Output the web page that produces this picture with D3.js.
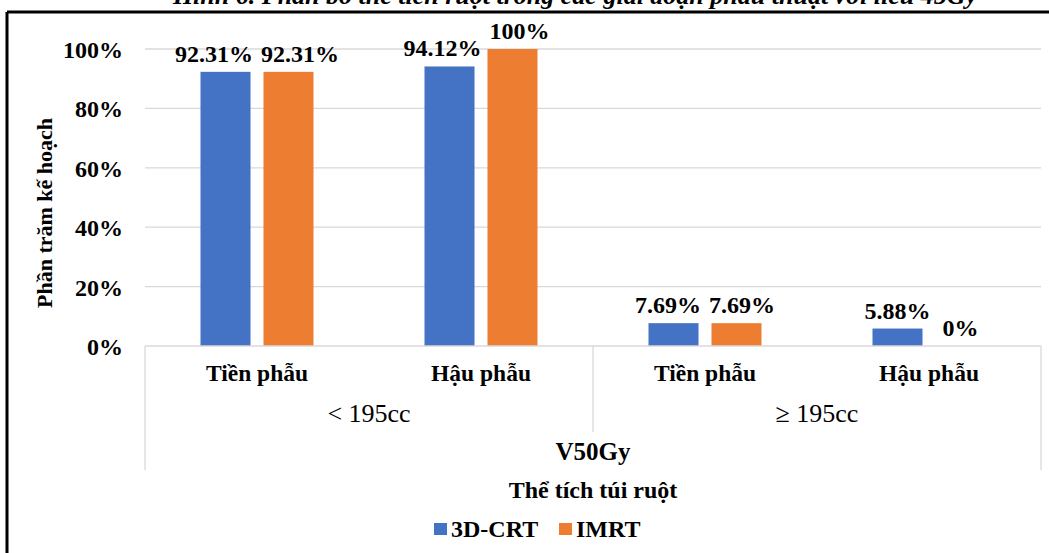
<!DOCTYPE html>
<html><head><meta charset="utf-8">
<script src="https://cdn.jsdelivr.net/npm/d3@7"></script>
<style>body{margin:0;background:#fff;overflow:hidden}svg{display:block}text{font-family:"Liberation Serif","Times New Roman",serif}</style>
</head><body>
<script>
const groups = ["< 195cc", "\u2265 195cc"];
const categories = ["Tiền phẫu", "Hậu phẫu", "Tiền phẫu", "Hậu phẫu"];
const series = ["3D-CRT", "IMRT"];
const values3D = [0.9231, 0.9412, 0.0769, 0.0588];
const valuesIMRT = [0.9231, 1.0, 0.0769, 0.0];
const labels3D = ["92.31%", "94.12%", "7.69%", "5.88%"];
const labelsIMRT = ["92.31%", "100%", "7.69%", "0%"];
const yTicks = [0, 0.2, 0.4, 0.6, 0.8, 1.0];
const colors = ["#4472C4", "#ED7D31"];
const titleText = "Hình 6. Phân bố thể tích ruột trong các giai đoạn phẫu thuật với liều 45Gy";

const W = 1049, H = 553;
const svg = d3.select("body").append("svg").attr("width", W).attr("height", H);
const L = 145, R = 1041, T = 49, B = 346;

// partially clipped title
svg.append("text").attr("x", 575).attr("y", 4).attr("text-anchor", "middle")
  .attr("font-size", 26).attr("font-weight", "bold").attr("font-style", "italic").text(titleText);
// frame
svg.append("line").attr("x1", 7).attr("x2", W).attr("y1", 12).attr("y2", 12).attr("stroke", "#000").attr("stroke-width", 3);
svg.append("line").attr("x1", 7).attr("x2", 7).attr("y1", 12).attr("y2", H).attr("stroke", "#000").attr("stroke-width", 3);

const y = d3.scaleLinear().domain([0, 1]).range([B, T]);
const x0 = d3.scaleBand().domain(d3.range(categories.length)).range([L, R]);
const x1 = d3.scaleBand().domain(series).range([0, x0.bandwidth()]).paddingInner(0.206).paddingOuter(0.881);

// gridlines
svg.append("g").selectAll("line").data(yTicks.filter(d => d > 0)).join("line")
  .attr("x1", L).attr("x2", R).attr("y1", d => y(d)).attr("y2", d => y(d))
  .attr("stroke", "#d9d9d9").attr("stroke-width", 1.3);

// y axis labels
const yAxis = d3.axisLeft(y).tickValues(yTicks).tickFormat(d3.format(".0%")).tickSize(0).tickPadding(0);
const ya = svg.append("g").attr("transform", `translate(123,0)`).call(yAxis);
ya.select(".domain").remove();
ya.selectAll("text").attr("font-size", 24).attr("font-weight", "bold").attr("fill", "#000")
  .attr("font-family", "Liberation Serif").attr("dy", "0.35em");

svg.append("text").attr("transform", `translate(52,213) rotate(-90)`).attr("text-anchor", "middle")
  .attr("font-size", 22).attr("font-weight", "bold").text("Phần trăm kế hoạch");

// bars
const data = categories.map((c, i) => ({i, vals: [
  {s: series[0], v: values3D[i], lab: labels3D[i], c: colors[0]},
  {s: series[1], v: valuesIMRT[i], lab: labelsIMRT[i], c: colors[1]}]}));
const g = svg.append("g").selectAll("g").data(data).join("g")
  .attr("transform", d => `translate(${x0(d.i)},0)`);
g.selectAll("rect").data(d => d.vals).join("rect")
  .attr("x", d => x1(d.s)).attr("width", x1.bandwidth())
  .attr("y", d => y(d.v)).attr("height", d => B - y(d.v)).attr("fill", d => d.c);
g.each(function(d) {
  const sel = d3.select(this).selectAll("text").data(d.vals).join("text")
    .attr("x", v => x1(v.s) + x1.bandwidth() / 2).attr("y", v => y(v.v) - 10)
    .attr("text-anchor", "middle").attr("font-size", 24).attr("font-weight", "bold").text(v => v.lab);
  // push apart overlapping labels on the same level
  const nodes = sel.nodes();
  const a = nodes[0], b = nodes[1];
  if (Math.abs(+a.getAttribute("y") - +b.getAttribute("y")) < 18) {
    const ba = a.getBBox(), bb = b.getBBox();
    const overlap = ba.x + ba.width + 8 - bb.x;
    if (overlap > 0) {
      a.setAttribute("x", +a.getAttribute("x") - overlap / 2);
      b.setAttribute("x", +b.getAttribute("x") + overlap / 2);
    }
  }
});

// category axis box
const ac = "#d9d9d9";
const ax = svg.append("g").attr("stroke", ac).attr("stroke-width", 1.3);
ax.append("line").attr("x1", L).attr("x2", R).attr("y1", B).attr("y2", B);
ax.append("line").attr("x1", L).attr("x2", L).attr("y1", B).attr("y2", 470);
ax.append("line").attr("x1", R).attr("x2", R).attr("y1", B).attr("y2", 470);
ax.append("line").attr("x1", x0(2)).attr("x2", x0(2)).attr("y1", B).attr("y2", 432);

svg.append("g").selectAll("text").data(categories).join("text")
  .attr("x", (d, i) => x0(i) + x0.bandwidth() / 2).attr("y", 381).attr("text-anchor", "middle")
  .attr("font-size", 23.5).attr("font-weight", "bold").text(d => d);
svg.append("g").selectAll("text").data(groups).join("text")
  .attr("x", (d, i) => (x0(i * 2) + x0(i * 2 + 1) + x0.bandwidth()) / 2).attr("y", 422).attr("text-anchor", "middle")
  .attr("font-size", 26).text(d => d);
svg.append("text").attr("x", (L + R) / 2).attr("y", 460).attr("text-anchor", "middle")
  .attr("font-size", 25).attr("font-weight", "bold").text("V50Gy");
svg.append("text").attr("x", (L + R) / 2).attr("y", 498).attr("text-anchor", "middle")
  .attr("font-size", 24).attr("font-weight", "bold").text("Thể tích túi ruột");

// legend
const lg = svg.append("g");
const lx = [434, 559];
series.forEach((s, i) => {
  lg.append("rect").attr("x", lx[i]).attr("y", 523).attr("width", 13).attr("height", 12).attr("fill", colors[i]);
  lg.append("text").attr("x", lx[i] + 17).attr("y", 537).attr("font-size", 24).attr("font-weight", "bold").text(s);
});
</script>
</body></html>
